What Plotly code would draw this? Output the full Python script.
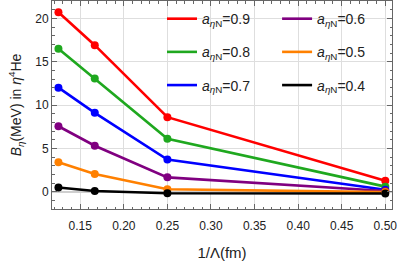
import plotly.graph_objects as go

x_vals = [0.125, 1/6, 0.25, 0.5]
labels = ["0.9", "0.8", "0.7", "0.6", "0.5", "0.4"]
b_09 = [20.7, 16.9, 8.6, 1.25]
b_08 = [16.5, 13.05, 6.1, 0.58]
b_07 = [12.0, 9.1, 3.7, 0.22]
b_06 = [7.55, 5.3, 1.65, 0.07]
b_05 = [3.4, 2.05, 0.28, -0.05]
b_04 = [0.48, 0.08, -0.18, -0.22]
series = [b_09, b_08, b_07, b_06, b_05, b_04]
colors = ["#ff0000", "#1fa81f", "#0000ff", "#800080", "#ff8000", "#000000"]

fig = go.Figure()
font = "Liberation Sans, Arial, sans-serif"
for i, (lab, ys, c) in enumerate(zip(labels, series, colors)):
    leg = "legend" if i < 3 else "legend2"
    fig.add_trace(go.Scatter(
        x=x_vals, y=ys, mode="lines", line=dict(color=c, width=2.6),
        name="<i>a</i><sub><i>η</i>N</sub>=" + lab,
        legend=leg, legendgroup="g" + lab, showlegend=True))
for i, (lab, ys, c) in enumerate(zip(labels, series, colors)):
    fig.add_trace(go.Scatter(
        x=x_vals, y=ys, mode="markers", marker=dict(color=c, size=8),
        showlegend=False, hoverinfo="skip"))

axis_common = dict(
    automargin=False,
    showline=True, linecolor="#666666", linewidth=1, mirror="allticks",
    ticks="inside", ticklen=5, tickcolor="#666666", tickwidth=1,
    showgrid=True, gridcolor="#dedede", gridwidth=1.3,
    tickfont=dict(family=font, size=12, color="#222222"),
)
fig.update_xaxes(
    range=[0.1176, 0.5077], tick0=0.15, dtick=0.05, tickformat=".2f",
    zeroline=False, ticklabelstandoff=6,
    minor=dict(dtick=0.01, ticks="inside", ticklen=2.5, tickcolor="#666666", showgrid=False),
    title=dict(text="1/Λ(fm)", font=dict(family=font, size=15, color="#222222"), standoff=19),
    **axis_common)
fig.update_yaxes(
    range=[-2, 22], tick0=0, dtick=5,
    zeroline=True, zerolinecolor="#cfcfcf", zerolinewidth=1.5,
    minor=dict(dtick=1, ticks="inside", ticklen=2.5, tickcolor="#666666", showgrid=False),
    title=dict(text="<i>B</i><sub><i>η</i></sub>(MeV) in <i>η</i><sup>4</sup>He",
               font=dict(family=font, size=14, color="#222222"), standoff=10),
    **axis_common)

leg_common = dict(bgcolor="rgba(0,0,0,0)", borderwidth=0, yanchor="top", y=0.99,
                  xanchor="left", tracegroupgap=12,
                  font=dict(family=font, size=14, color="#222222"))
fig.update_layout(
    width=399, height=261,
    margin=dict(l=52, r=7, t=1, b=52),
    plot_bgcolor="white", paper_bgcolor="white",
    legend=dict(x=0.3235, **leg_common),
    legend2=dict(x=0.662, **leg_common),
)
fig.write_html("out.html", config={"displayModeBar": False},
               post_script="document.body.style.margin='0';")
